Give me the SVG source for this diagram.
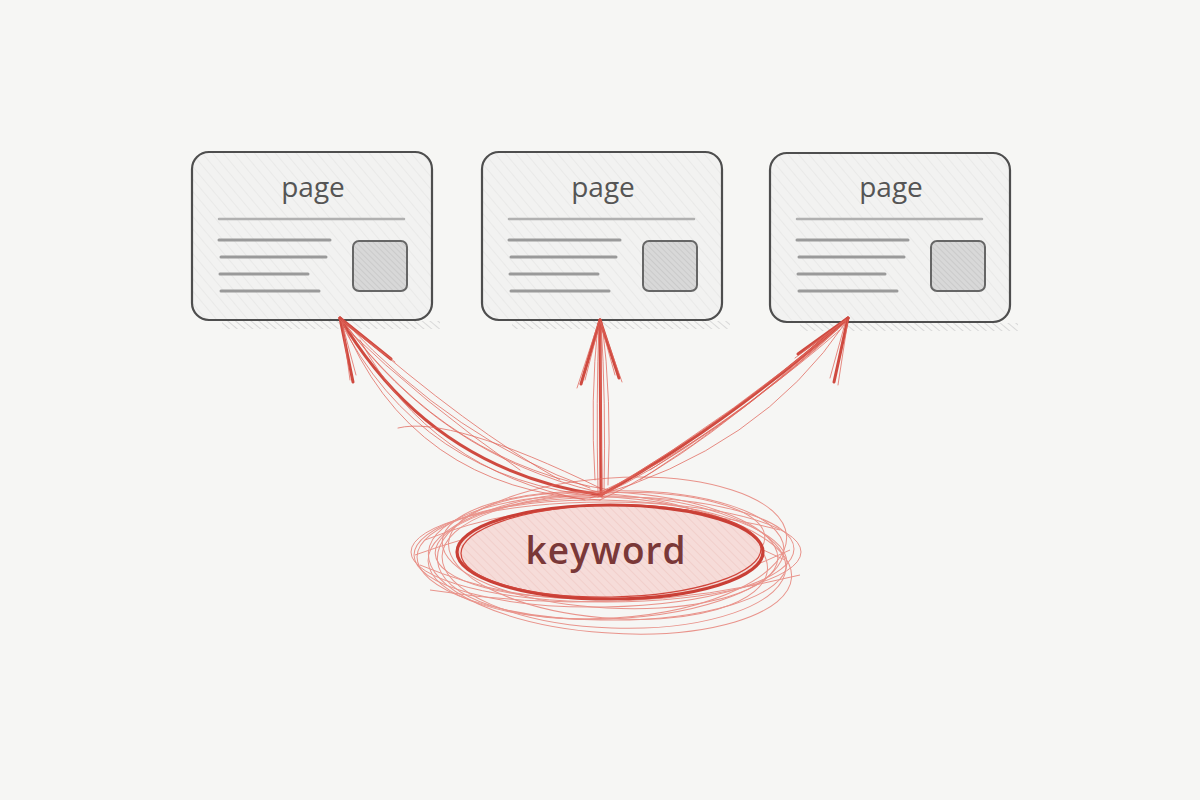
<svg xmlns="http://www.w3.org/2000/svg" width="1200" height="800" viewBox="0 0 1200 800">
<defs>
<pattern id="hatch" patternUnits="userSpaceOnUse" width="8" height="8" patternTransform="rotate(-40)">
<rect width="8" height="8" fill="#f2f2f1"/>
<line x1="0" y1="0" x2="0" y2="8" stroke="#e4e4e2" stroke-width="1.2"/>
</pattern>
<pattern id="hatchImg" patternUnits="userSpaceOnUse" width="4" height="4" patternTransform="rotate(-45)">
<rect width="4" height="4" fill="#d8d8d8"/>
<line x1="0" y1="0" x2="0" y2="4" stroke="#c4c4c4" stroke-width="1.4"/>
</pattern>
<pattern id="hatchRed" patternUnits="userSpaceOnUse" width="6" height="6" patternTransform="rotate(-45)">
<rect width="6" height="6" fill="#f6dcd9"/>
<line x1="0" y1="0" x2="0" y2="6" stroke="#efc6c2" stroke-width="1.2"/>
</pattern>
<pattern id="shadow" patternUnits="userSpaceOnUse" width="5" height="5" patternTransform="rotate(-50)">
<line x1="0" y1="0" x2="0" y2="5" stroke="#d9d9d9" stroke-width="2"/>
</pattern>
</defs>
<style>
.box{fill:url(#hatch);stroke:#4e4e4e;stroke-width:2.2}
.img{fill:url(#hatchImg);stroke:#666;stroke-width:2}
.ln{stroke:#9a9a9a;stroke-width:3;stroke-linecap:round;fill:none}
.title{font-family:"Open Sans","Liberation Sans",sans-serif;font-weight:500;font-size:28px;fill:#555;text-anchor:middle}
.kw{font-family:"Open Sans","Liberation Sans",sans-serif;font-weight:600;font-size:37px;letter-spacing:1px;fill:#7a3838;text-anchor:middle}
.main{stroke:#cf4a40;stroke-width:3;fill:none;stroke-linecap:round}
.thin{stroke:#e0665b;stroke-width:1;fill:none;opacity:0.75;stroke-linecap:round}
.scr{stroke:#e46a5f;stroke-width:1;fill:none;opacity:0.7}
.shd{fill:url(#shadow)}
</style>
<rect width="1200" height="800" fill="#f6f6f4"/>

<g id="page1">
<rect class="shd" x="222" y="321" width="218" height="8"/>
<rect class="box" x="192" y="152" width="240" height="168" rx="17"/>
<text class="title" x="313" y="197">page</text>
<line class="ln" x1="219" y1="219" x2="404" y2="219" style="stroke:#b0b0b0;stroke-width:2.5"/>
<line class="ln" x1="219" y1="240" x2="330" y2="240"/>
<line class="ln" x1="221" y1="257" x2="326" y2="257"/>
<line class="ln" x1="220" y1="274" x2="308" y2="274"/>
<line class="ln" x1="221" y1="291" x2="319" y2="291"/>
<rect class="img" x="353" y="241" width="54" height="50" rx="6"/>
</g>

<g id="page2">
<rect class="shd" x="512" y="321" width="218" height="8"/>
<rect class="box" x="482" y="152" width="240" height="168" rx="17"/>
<text class="title" x="603" y="197">page</text>
<line class="ln" x1="509" y1="219" x2="694" y2="219" style="stroke:#b0b0b0;stroke-width:2.5"/>
<line class="ln" x1="509" y1="240" x2="620" y2="240"/>
<line class="ln" x1="511" y1="257" x2="616" y2="257"/>
<line class="ln" x1="510" y1="274" x2="598" y2="274"/>
<line class="ln" x1="511" y1="291" x2="609" y2="291"/>
<rect class="img" x="643" y="241" width="54" height="50" rx="6"/>
</g>

<g id="page3">
<rect class="shd" x="800" y="323" width="218" height="8"/>
<rect class="box" x="770" y="153" width="240" height="169" rx="17"/>
<text class="title" x="891" y="197">page</text>
<line class="ln" x1="797" y1="219" x2="982" y2="219" style="stroke:#b0b0b0;stroke-width:2.5"/>
<line class="ln" x1="797" y1="240" x2="908" y2="240"/>
<line class="ln" x1="799" y1="257" x2="904" y2="257"/>
<line class="ln" x1="798" y1="274" x2="885" y2="274"/>
<line class="ln" x1="799" y1="291" x2="897" y2="291"/>
<rect class="img" x="931" y="241" width="54" height="50" rx="6"/>
</g>

<g id="connectors">
<!-- left arrow -->
<path class="main" d="M601,495 Q430,470 340,318"/>
<path class="thin" d="M598,492 Q440,455 342,320"/>
<path class="thin" d="M604,497 Q420,480 339,319"/>
<path class="thin" d="M590,488 Q455,440 345,322"/>
<path class="thin" d="M600,500 Q410,490 341,318"/>
<path class="thin" d="M560,480 Q470,430 350,325"/>
<path class="thin" d="M610,490 Q450,465 343,321"/>
<path class="thin" d="M520,470 Q420,400 348,330"/>
<path class="thin" d="M600,488 Q450,415 398,428"/>
<path class="thin" d="M585,500 Q430,470 360,340"/>
<path class="main" d="M340,318 L353,382"/>
<path class="thin" d="M342,320 L350,380 M341,319 L356,375"/>
<path class="main" d="M340,318 L391,359"/>
<path class="thin" d="M342,320 L395,362 M340,320 L385,355"/>
<!-- middle arrow -->
<path class="main" d="M601,495 L600,320"/>
<path class="thin" d="M598,492 Q596,400 599,322"/>
<path class="thin" d="M604,494 Q606,400 601,321"/>
<path class="thin" d="M595,480 Q590,400 598,323"/>
<path class="thin" d="M608,485 Q612,400 602,322"/>
<path class="thin" d="M602,498 L600,321"/>
<path class="main" d="M600,320 L581,384"/>
<path class="thin" d="M600,322 L585,380 M599,321 L577,388"/>
<path class="main" d="M600,320 L619,378"/>
<path class="thin" d="M601,322 L622,382 M600,321 L615,375"/>
<!-- right arrow -->
<path class="main" d="M601,495 Q720,430 848,318"/>
<path class="thin" d="M604,492 Q730,420 846,320"/>
<path class="thin" d="M598,497 Q710,445 849,319"/>
<path class="thin" d="M610,490 Q740,410 845,321"/>
<path class="thin" d="M600,500 Q700,455 847,318"/>
<path class="thin" d="M640,480 Q750,410 843,324"/>
<path class="thin" d="M596,494 Q720,440 848,320"/>
<path class="thin" d="M650,470 Q760,400 840,330"/>
<path class="thin" d="M590,498 Q760,450 846,322"/>
<path class="main" d="M848,318 L798,354"/>
<path class="thin" d="M846,320 L795,358 M847,319 L805,350"/>
<path class="main" d="M848,318 L834,382"/>
<path class="thin" d="M846,320 L830,378 M848,320 L838,385"/>
</g>

<g id="keyword">
<g class="scr">
<ellipse cx="606" cy="555" rx="178" ry="64" transform="rotate(-2 606 555)"/>
<ellipse cx="610" cy="550" rx="168" ry="58" transform="rotate(3 610 550)"/>
<ellipse cx="602" cy="560" rx="185" ry="60" transform="rotate(1 602 560)"/>
<ellipse cx="612" cy="548" rx="175" ry="70" transform="rotate(-4 612 548)"/>
<ellipse cx="608" cy="556" rx="160" ry="62" transform="rotate(5 608 556)"/>
<ellipse cx="604" cy="552" rx="190" ry="55" transform="rotate(-1 604 552)"/>
<ellipse cx="614" cy="562" rx="172" ry="66" transform="rotate(2 614 562)"/>
<ellipse cx="600" cy="545" rx="165" ry="52" transform="rotate(-3 600 545)"/>
<ellipse cx="610" cy="565" rx="182" ry="68" transform="rotate(4 610 565)"/>
<ellipse cx="606" cy="552" rx="195" ry="50" transform="rotate(0 606 552)"/>
<path d="M420,565 Q600,640 790,550"/>
<path d="M425,540 Q600,470 785,560"/>
<path d="M430,590 Q620,620 800,575"/>
<path d="M415,555 Q610,485 780,530"/>
</g>
<ellipse cx="610" cy="552" rx="153" ry="47" fill="url(#hatchRed)" stroke="#c93f36" stroke-width="3.2"/>
<ellipse cx="611" cy="551" rx="150" ry="46" fill="none" stroke="#d0453b" stroke-width="1.2" transform="rotate(-1 611 551)"/>
<text class="kw" x="606" y="564">keyword</text>
</g>
</svg>
